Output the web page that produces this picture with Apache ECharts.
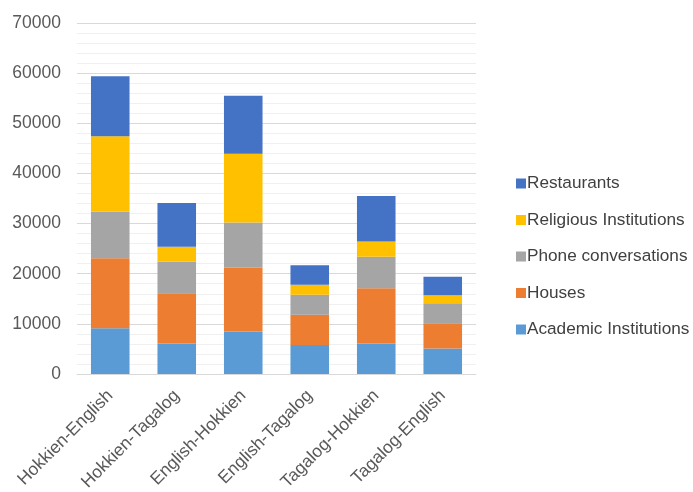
<!DOCTYPE html>
<html>
<head>
<meta charset="utf-8">
<script src="https://cdn.jsdelivr.net/npm/echarts@6/dist/echarts.min.js"></script>
<style>
  html, body { margin: 0; padding: 0; background: #fff; }
  #main { width: 693px; height: 492px; }
</style>
</head>
<body>
<div id="main"></div>
<script>
var categories = ['Hokkien-English', 'Hokkien-Tagalog', 'English-Hokkien', 'English-Tagalog', 'Tagalog-Hokkien', 'Tagalog-English'];

var academic    = [9100, 6100, 8500, 5800, 6100, 5100];
var houses      = [14000, 10000, 12700, 6000, 11000, 5000];
var phone       = [9300, 6300, 9000, 4000, 6300, 4000];
var religious   = [15000, 3000, 13700, 2000, 3000, 1600];
var restaurants = [12000, 8700, 11600, 3900, 9100, 3700];

var seriesDefs = [
    ['Academic Institutions', academic, '#5B9BD5'],
    ['Houses', houses, '#ED7D31'],
    ['Phone conversations', phone, '#A5A5A5'],
    ['Religious Institutions', religious, '#FFC000'],
    ['Restaurants', restaurants, '#4472C4']
];

var font = 'Liberation Sans, Arial, sans-serif';
var myChart = echarts.init(document.getElementById('main'));

var series = seriesDefs.map(function (d) {
    return {
        name: d[0],
        type: 'bar',
        stack: 'total',
        barWidth: '58%',
        itemStyle: { color: d[2] },
        data: d[1]
    };
});

var option = {
    animation: false,
    backgroundColor: '#fff',
    grid: { left: 77, right: 217, top: 23, bottom: 118, outerBoundsMode: 'none' },
    legend: {
        orient: 'vertical',
        left: 511,
        top: 170,
        itemWidth: 10,
        itemHeight: 10,
        itemGap: 19.5,
        icon: 'rect',
        data: ['Restaurants', 'Religious Institutions', 'Phone conversations', 'Houses', 'Academic Institutions'],
        textStyle: { fontFamily: font, fontSize: 17.2, color: '#404040', padding: [0, 0, 0, -4] }
    },
    xAxis: {
        type: 'category',
        data: categories,
        axisLine: { lineStyle: { color: '#d9d9d9', width: 1 } },
        axisTick: { show: false },
        axisLabel: {
            rotate: 45,
            interval: 0,
            margin: 19,
            fontFamily: font,
            fontSize: 17.5,
            color: '#595959'
        }
    },
    yAxis: {
        type: 'value',
        min: 0,
        max: 70000,
        interval: 10000,
        axisLine: { show: false },
        axisTick: { show: false },
        axisLabel: {
            fontFamily: font,
            fontSize: 17.5,
            color: '#595959',
            margin: 16,
            formatter: function (v) { return String(v); }
        },
        splitLine: { lineStyle: { color: '#d9d9d9', width: 1 } },
        minorTick: { show: false, splitNumber: 5 },
        minorSplitLine: { show: true, lineStyle: { color: '#f0f0f0', width: 1 } }
    },
    series: series
};

myChart.setOption(option);
</script>
</body>
</html>
